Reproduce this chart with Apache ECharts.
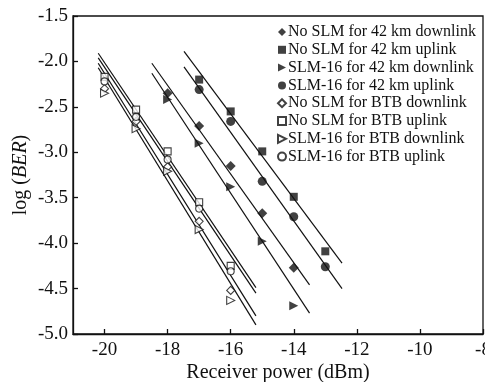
<!DOCTYPE html>
<html>
<head>
<meta charset="utf-8">
<script src="https://cdn.jsdelivr.net/npm/echarts@6/dist/echarts.min.js"></script>
<style>
  html, body { margin: 0; padding: 0; background: #fff; }
  #chart { width: 485px; height: 382px; }
</style>
</head>
<body>
<div id="chart"></div>
<script>
// measured points, log(BER) vs received power (dBm)
const power42Down = [-18, -17, -16, -15, -14];
const power42Up = [-17, -16, -15, -14, -13];
const powerBtb = [-20, -19, -18, -17, -16];

const noSlm42Down = [-2.35, -2.71, -3.15, -3.67, -4.27];
const noSlm42Up = [-2.20, -2.55, -2.99, -3.49, -4.09];
const slm42Down = [-2.42, -2.90, -3.38, -3.98, -4.69];
const slm42Up = [-2.31, -2.66, -3.32, -3.71, -4.26];
const noSlmBtbDown = [-2.30, -2.66, -3.16, -3.76, -4.52];
const noSlmBtbUp = [-2.17, -2.53, -2.99, -3.55, -4.25];
const slmBtbDown = [-2.35, -2.74, -3.21, -3.85, -4.63];
const slmBtbUp = [-2.22, -2.61, -3.08, -3.62, -4.31];

// fitted lines (end points)
const fitX42Up = [-17.48, -12.47];
const fitX42Down = [-18.5, -13.5];
const fitXBtb = [-20.2, -15.2];
const fitNoSlm42Up = [-1.89, -4.22];
const fitSlm42Up = [-2.06, -4.50];
const fitNoSlm42Down = [-2.02, -4.46];
const fitSlm42Down = [-2.13, -4.77];
const fitNoSlmBtbUp = [-1.91, -4.49];
const fitSlmBtbUp = [-1.96, -4.55];
const fitNoSlmBtbDown = [-2.02, -4.80];
const fitSlmBtbDown = [-2.07, -4.90];

const xTicks = [-20, -18, -16, -14, -12, -10, -8];

const ink = "#111";
const serif = "Liberation Serif";
const triRight = "path://M0,0L10,5L0,10Z";

const pair = (xs, ys) => xs.map((x, i) => [x, ys[i]]);

const fitLine = (xs, ys) => ({
  type: "line",
  data: pair(xs, ys),
  symbol: "none",
  silent: true,
  lineStyle: { color: ink, width: 1.2 },
  z: 2
});

const marks = (name, xs, ys, symbol, filled, size) => ({
  name,
  type: "scatter",
  data: pair(xs, ys),
  symbol,
  symbolSize: size,
  itemStyle: filled
    ? { color: ink, borderWidth: 0 }
    : { color: "#fff", borderColor: ink, borderWidth: 1.1 },
  z: 5
});

const names = [
  "No SLM for 42 km downlink",
  "No SLM for 42 km uplink",
  "SLM-16 for 42 km downlink",
  "SLM-16 for 42 km uplink",
  "No SLM for BTB downlink",
  "No SLM for BTB uplink",
  "SLM-16 for BTB downlink",
  "SLM-16 for BTB uplink"
];

const chart = echarts.init(document.getElementById("chart"));
chart.setOption({
  animation: false,
  backgroundColor: "#fff",
  grid: {
    left: 73, right: 2, top: 16, bottom: 48,
    outerBoundsMode: "none",
    show: true, borderColor: ink, borderWidth: 1.3
  },
  legend: {
    data: names,
    orient: "vertical",
    left: 277,
    top: 24,
    itemWidth: 8,
    itemHeight: 8,
    itemGap: 1.8,
    padding: 0,
    textStyle: { fontFamily: serif, fontSize: 16, color: ink, lineHeight: 16, padding: [0, 0, 0, -3] }
  },
  xAxis: {
    type: "value",
    min: -21,
    max: -8,
    name: "Receiver power (dBm)",
    nameLocation: "middle",
    nameGap: 29,
    nameMoveOverlap: false,
    nameTextStyle: { fontFamily: serif, fontSize: 20, color: ink, lineHeight: 20 },
    splitLine: { show: false },
    axisLine: { lineStyle: { color: ink, width: 1.3 } },
    axisTick: { inside: true, length: 5, customValues: xTicks, lineStyle: { color: ink, width: 1.3 } },
    axisLabel: { customValues: xTicks, fontFamily: serif, fontSize: 19, color: ink, margin: 7 }
  },
  yAxis: {
    type: "value",
    min: -5,
    max: -1.5,
    interval: 0.5,
    name: "log ({i|BER})",
    nameLocation: "middle",
    nameGap: 42,
    nameMoveOverlap: false,
    nameTextStyle: {
      fontFamily: serif,
      fontSize: 20,
      color: ink,
      rich: { i: { fontFamily: serif, fontSize: 20, fontStyle: "italic", color: ink } }
    },
    splitLine: { show: false },
    axisLine: { lineStyle: { color: ink, width: 1.3 } },
    axisTick: { inside: true, length: 5, lineStyle: { color: ink, width: 1.3 } },
    axisLabel: { fontFamily: serif, fontSize: 19, color: ink, margin: 5, formatter: (v) => v.toFixed(1) }
  },
  series: [
    fitLine(fitX42Up, fitNoSlm42Up),
    fitLine(fitX42Up, fitSlm42Up),
    fitLine(fitX42Down, fitNoSlm42Down),
    fitLine(fitX42Down, fitSlm42Down),
    fitLine(fitXBtb, fitNoSlmBtbUp),
    fitLine(fitXBtb, fitSlmBtbUp),
    fitLine(fitXBtb, fitNoSlmBtbDown),
    fitLine(fitXBtb, fitSlmBtbDown),
    marks(names[0], power42Down, noSlm42Down, "diamond", true, 10),
    marks(names[1], power42Up, noSlm42Up, "rect", true, 8),
    marks(names[2], power42Down, slm42Down, triRight, true, 9),
    marks(names[3], power42Up, slm42Up, "circle", true, 9),
    marks(names[4], powerBtb, noSlmBtbDown, "diamond", false, 8),
    marks(names[5], powerBtb, noSlmBtbUp, "rect", false, 7),
    marks(names[6], powerBtb, slmBtbDown, triRight, false, 8),
    marks(names[7], powerBtb, slmBtbUp, "circle", false, 7)
  ]
});
</script>
</body>
</html>
